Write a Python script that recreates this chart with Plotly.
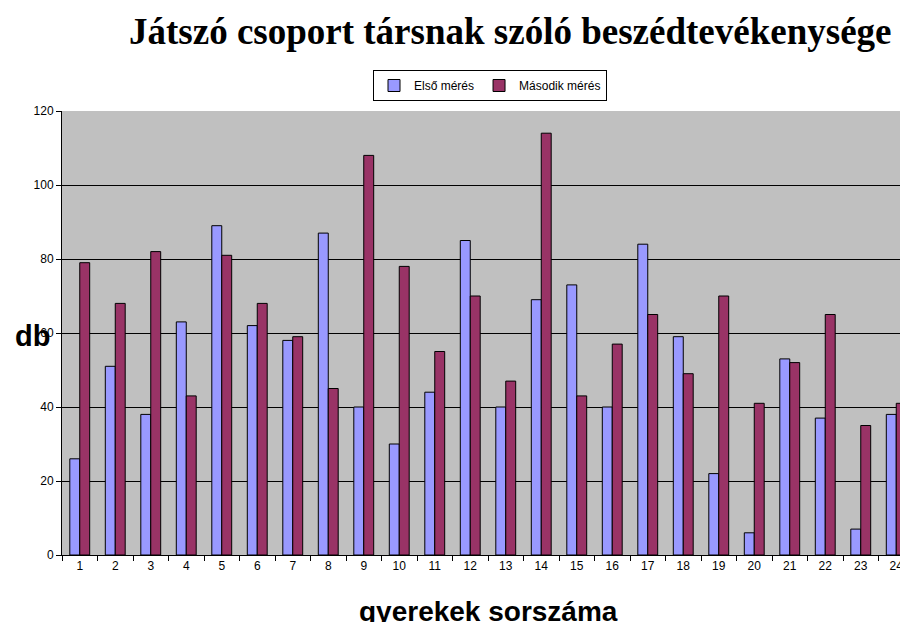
import plotly.graph_objects as go

categories = [str(i) for i in range(1, 25)]
first = [26, 51, 38, 63, 89, 62, 58, 87, 40, 30, 44, 85, 40, 69, 73, 40, 84, 59, 22, 6, 53, 37, 7, 38]
second = [79, 68, 82, 43, 81, 68, 59, 45, 108, 78, 55, 70, 47, 114, 43, 57, 65, 49, 70, 41, 52, 65, 35, 41]
series_names = ["Első mérés", "Második mérés"]
y_ticks = [0, 20, 40, 60, 80, 100, 120]

W, H = 900, 622
L, T, B = 62, 111, 67
plot_h = H - T - B
plot_w = W - L
cat_w = 35.5

fig = go.Figure()
fig.add_trace(go.Bar(x=categories, y=first, name=series_names[0],
                     marker=dict(color="#9999FF", line=dict(color="black", width=1))))
fig.add_trace(go.Bar(x=categories, y=second, name=series_names[1],
                     marker=dict(color="#993366", line=dict(color="black", width=1))))

xmax = -0.5 + plot_w / cat_w

fig.update_layout(
    width=W, height=H,
    margin=dict(l=L, r=0, t=T, b=B, pad=0, autoexpand=False),
    paper_bgcolor="white",
    plot_bgcolor="#C0C0C0",
    barmode="group",
    bargap=0.44,
    bargroupgap=0,
    font=dict(family="Liberation Sans, Arial", size=12, color="black"),
    showlegend=True,
    legend=dict(orientation="h", xref="container", yref="container",
                x=490 / W, xanchor="center",
                y=1 - 70 / H, yanchor="top",
                bordercolor="black", borderwidth=1, bgcolor="white",
                font=dict(size=12, family="Liberation Sans, Arial"),
                itemwidth=30, tracegroupgap=0),
    xaxis=dict(type="category", range=[-0.5, xmax], tickson="boundaries",
               ticks="outside", ticklen=5, tickcolor="black",
               showline=True, linecolor="black", linewidth=1,
               showgrid=False, tickfont=dict(size=12), automargin=False),
    yaxis=dict(range=[0, 120], tickvals=y_ticks, ticks="outside", ticklen=5,
               tickcolor="black", showline=True, linecolor="black", linewidth=1,
               showgrid=True, gridcolor="black", gridwidth=1,
               zeroline=False, tickfont=dict(size=12), automargin=False),
    annotations=[
        dict(text="<b>Játszó csoport társnak szóló beszédtevékenysége</b>",
             xref="paper", yref="paper", x=(510 - L) / plot_w, y=1 + (T - 31) / plot_h,
             xanchor="center", yanchor="middle", showarrow=False,
             font=dict(family="Liberation Serif, Times New Roman", size=37, color="black")),
        dict(text="<b>db</b>", xref="paper", yref="paper",
             x=(32 - L) / plot_w, y=(555 - 336) / plot_h,
             xanchor="center", yanchor="middle", showarrow=False,
             font=dict(family="Liberation Sans, Arial", size=29, color="black")),
        dict(text="<b>gyerekek sorszáma</b>", xref="paper", yref="paper",
             x=(488 - L) / plot_w, y=(555 - 611) / plot_h,
             xanchor="center", yanchor="middle", showarrow=False,
             font=dict(family="Liberation Sans, Arial", size=28, color="black")),
    ],
)

fig.write_html("out.html", config={"displayModeBar": False},
               post_script="document.body.style.margin='0';document.body.style.overflow='hidden';")
